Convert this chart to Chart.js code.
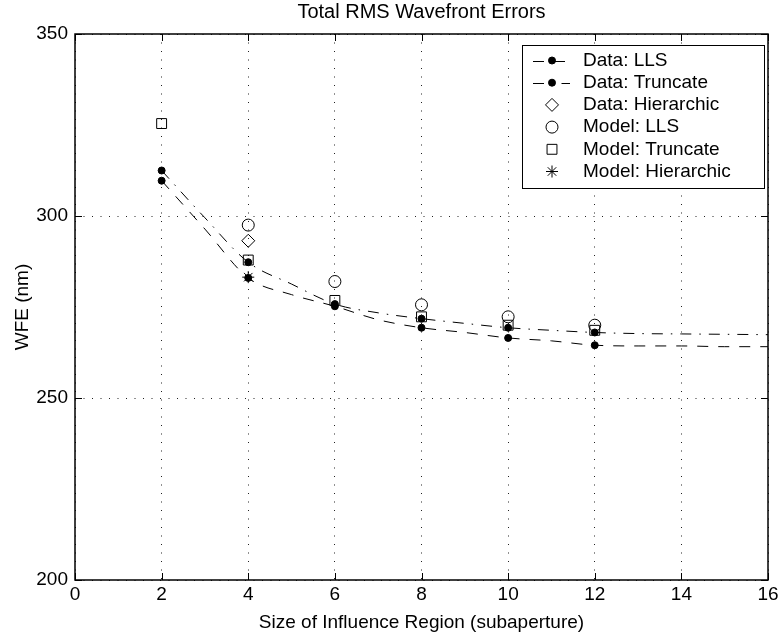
<!DOCTYPE html>
<html>
<head>
<meta charset="utf-8">
<script src="https://cdn.jsdelivr.net/npm/chart.js@4.4.0/dist/chart.umd.min.js"></script>
<style>
  html, body { margin: 0; padding: 0; background: #fff; }
  #wrap { width: 780px; height: 642px; }
</style>
</head>
<body>
<div id="wrap"><canvas id="wfeChart"></canvas></div>
<script>
  // ---------- Data ----------
  const CURVE_X          = [2, 3, 4, 5, 6, 7, 8, 9, 10, 11, 12, 13, 14, 15, 16];
  const CURVE_LLS        = [309.7, 296.4, 283.0, 278.4, 275.2, 271.5, 269.3, 268.0, 266.5, 265.7, 264.5, 264.3, 264.3, 264.1, 264.1];
  const CURVE_TRUNCATE   = [312.5, 299.5, 287.3, 281.3, 275.8, 273.4, 271.8, 270.5, 269.3, 268.6, 268.0, 267.7, 267.6, 267.5, 267.4];

  const DATA_X           = [2, 4, 6, 8, 10, 12];
  const DATA_LLS         = [309.7, 283.0, 275.2, 269.3, 266.5, 264.5];
  const DATA_TRUNCATE    = [312.5, 287.3, 275.8, 271.8, 269.3, 268.0];
  const DATA_HIER_X      = [4];
  const DATA_HIER        = [293.2];

  const MODEL_LLS_X      = [4, 6, 8, 10, 12];
  const MODEL_LLS        = [297.5, 282.0, 275.6, 272.3, 270.0];
  const MODEL_TRUNC_X    = [2, 4, 6, 8, 10, 12];
  const MODEL_TRUNCATE   = [325.4, 287.9, 276.8, 272.3, 270.0, 268.6];
  const MODEL_HIER_X     = [4];
  const MODEL_HIER       = [283.2];

  const X_TICKS = [0, 2, 4, 6, 8, 10, 12, 14, 16];
  const Y_TICKS = [200, 250, 300, 350];

  const LEGEND_LABELS = ["Data: LLS", "Data: Truncate", "Data: Hierarchic",
                         "Model: LLS", "Model: Truncate", "Model: Hierarchic"];

  // ---------- Styles ----------
  const FONT = "'Liberation Sans', Arial, Helvetica, sans-serif";
  const FS = 19;
  const DASHED  = [11, 10];
  const DASHDOT = [11, 8, 1.5, 8];

  const pts = (xs, ys) => xs.map((x, i) => ({ x: x, y: ys[i] }));

  const markerSet = (label, xs, ys, style, radius, filled) => ({
    label: label,
    data: pts(xs, ys),
    showLine: false,
    pointStyle: style,
    pointRadius: radius,
    pointHoverRadius: radius,
    pointBorderWidth: 1,
    pointBorderColor: "#000",
    pointBackgroundColor: filled ? "#000" : "rgba(0,0,0,0)"
  });

  const curveSet = (label, ys, dash) => ({
    label: label,
    data: pts(CURVE_X, ys),
    showLine: true,
    borderColor: "#000",
    borderWidth: 1,
    borderDash: dash,
    cubicInterpolationMode: "monotone",
    pointRadius: 0,
    fill: false
  });

  const datasets = [
    curveSet("LLS fit", CURVE_LLS, DASHED),                                     // 0
    curveSet("Truncate fit", CURVE_TRUNCATE, DASHDOT),                          // 1
    markerSet(LEGEND_LABELS[0], DATA_X, DATA_LLS, "circle", 3.5, true),         // 2
    markerSet(LEGEND_LABELS[1], DATA_X, DATA_TRUNCATE, "circle", 3.5, true),    // 3
    markerSet(LEGEND_LABELS[2], DATA_HIER_X, DATA_HIER, "rectRot", 6.5, false), // 4
    markerSet(LEGEND_LABELS[3], MODEL_LLS_X, MODEL_LLS, "circle", 6, false),    // 5
    markerSet(LEGEND_LABELS[4], MODEL_TRUNC_X, MODEL_TRUNCATE, "rect", 7, false), // 6
    markerSet(LEGEND_LABELS[5], MODEL_HIER_X, MODEL_HIER, "star", 6, false)     // 7
  ];

  // legend rows: which dataset gives the line sample, which gives the marker
  const LEGEND_ROWS = [
    { line: 0, point: 2 }, { line: 1, point: 3 }, { point: 4 },
    { point: 5 }, { point: 6 }, { point: 7 }
  ];

  // ---------- Plugins ----------
  // box round the axes with inward ticks (MATLAB look)
  const framePlugin = {
    id: "frame",
    afterDatasetsDraw(chart) {
      const { ctx, chartArea: a, scales } = chart;
      const TL = 7;
      ctx.save();
      ctx.strokeStyle = "#000";
      ctx.lineWidth = 1;
      ctx.beginPath();
      X_TICKS.forEach(v => {
        const px = Math.round(scales.x.getPixelForValue(v)) + 0.5;
        ctx.moveTo(px, a.bottom); ctx.lineTo(px, a.bottom - TL);
        ctx.moveTo(px, a.top);    ctx.lineTo(px, a.top + TL);
      });
      Y_TICKS.forEach(v => {
        const py = Math.round(scales.y.getPixelForValue(v)) + 0.5;
        ctx.moveTo(a.left, py);  ctx.lineTo(a.left + TL, py);
        ctx.moveTo(a.right, py); ctx.lineTo(a.right - TL, py);
      });
      ctx.stroke();
      ctx.lineWidth = 1.5;
      ctx.strokeRect(a.left, a.top, a.right - a.left, a.bottom - a.top);
      ctx.restore();
    }
  };

  const legendPlugin = {
    id: "boxLegend",
    afterDraw(chart) {
      const { ctx } = chart;
      const box = { left: 522, top: 45, right: 764, bottom: 188 };
      const rowH = 22.2, firstRow = 60.5;
      const lineX0 = 533, lineX1 = 570, markX = 552, textX = 583;
      ctx.save();
      ctx.fillStyle = "#fff";
      ctx.fillRect(box.left, box.top, box.right - box.left, box.bottom - box.top);
      ctx.strokeStyle = "#000";
      ctx.lineWidth = 1;
      ctx.strokeRect(box.left + 0.5, box.top + 0.5, box.right - box.left, box.bottom - box.top);
      ctx.font = FS + "px " + FONT;
      ctx.textBaseline = "middle";
      ctx.textAlign = "left";
      LEGEND_ROWS.forEach((row, i) => {
        const y = firstRow + i * rowH;
        if (row.line !== undefined) {
          const ls = chart.data.datasets[row.line];
          ctx.save();
          ctx.setLineDash(ls.borderDash);
          ctx.lineWidth = ls.borderWidth;
          ctx.strokeStyle = ls.borderColor;
          ctx.beginPath();
          ctx.moveTo(lineX0, Math.round(y) + 0.5);
          ctx.lineTo(lineX1, Math.round(y) + 0.5);
          ctx.stroke();
          ctx.restore();
        }
        const ps = chart.data.datasets[row.point];
        ctx.save();
        ctx.fillStyle = ps.pointBackgroundColor;
        ctx.strokeStyle = ps.pointBorderColor;
        ctx.lineWidth = ps.pointBorderWidth;
        Chart.helpers.drawPoint(ctx, {
          pointStyle: ps.pointStyle, radius: ps.pointRadius,
          rotation: 0, borderWidth: ps.pointBorderWidth
        }, markX, y);
        ctx.restore();
        ctx.fillStyle = "#000";
        ctx.fillText(ps.label, textX, y);
      });
      ctx.restore();
    }
  };

  // ---------- Chart ----------
  Chart.defaults.font.family = FONT;
  Chart.defaults.font.size = FS;
  Chart.defaults.color = "#000";

  const ctx = document.getElementById("wfeChart").getContext("2d");
  new Chart(ctx, {
    type: "scatter",
    data: { datasets: datasets },
    options: {
      responsive: true,
      maintainAspectRatio: false,
      animation: false,
      devicePixelRatio: 1,
      layout: { padding: { left: 0, right: 12, top: 0, bottom: 0 } },
      plugins: {
        legend: { display: false },
        tooltip: { enabled: false },
        title: {
          display: true,
          fullSize: false,
          text: "Total RMS Wavefront Errors",
          font: { size: 20, weight: "normal" },
          color: "#000",
          padding: { top: 0, bottom: 10 }
        }
      },
      scales: {
        x: {
          type: "linear",
          min: 0, max: 16,
          afterBuildTicks: (s) => { s.ticks = X_TICKS.map(v => ({ value: v })); },
          afterFit: (s) => { s.height = 62; s.paddingLeft = 0; s.paddingRight = 0; },
          ticks: { padding: 3, color: "#000", font: { size: FS } },
          grid: { color: "#222", lineWidth: 1, drawTicks: false },
          border: { display: false, dash: [1, 7.5] },
          title: {
            display: true,
            text: "Size of Influence Region (subaperture)",
            color: "#000",
            font: { size: FS },
            padding: { top: 0, bottom: 8 }
          }
        },
        y: {
          type: "linear",
          min: 200, max: 350,
          afterBuildTicks: (s) => { s.ticks = Y_TICKS.map(v => ({ value: v })); },
          afterFit: (s) => { s.width = 75; s.paddingTop = 0; s.paddingBottom = 0; },
          ticks: { padding: 7, color: "#000", font: { size: FS } },
          grid: { color: "#222", lineWidth: 1, drawTicks: false },
          border: { display: false, dash: [1, 7.5] },
          title: {
            display: true,
            text: "WFE (nm)",
            color: "#000",
            font: { size: FS },
            padding: { top: 11, bottom: 0 }
          }
        }
      }
    },
    plugins: [framePlugin, legendPlugin]
  });
</script>
</body>
</html>
